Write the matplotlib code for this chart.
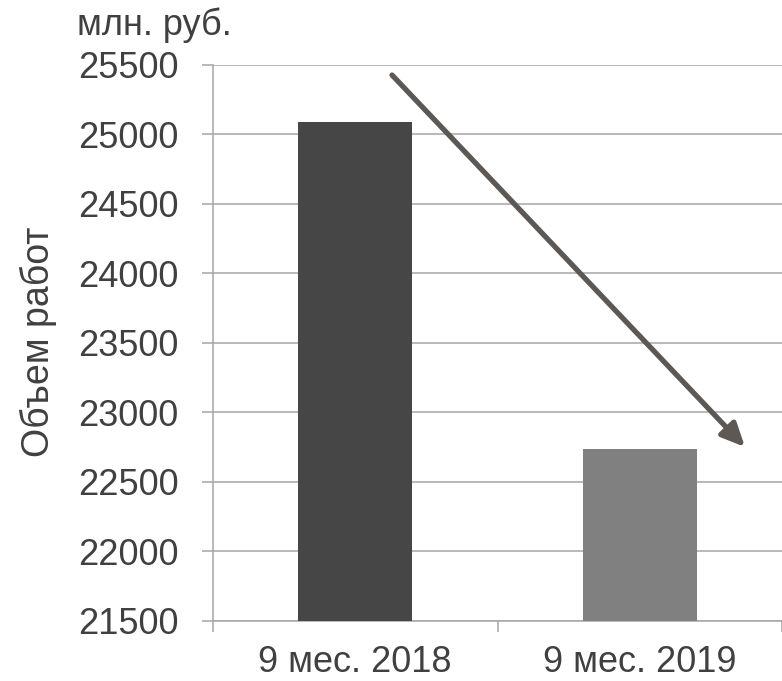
import matplotlib
matplotlib.use("Agg")
import matplotlib.pyplot as plt

categories = ["9 мес. 2018", "9 мес. 2019"]
values = [25090, 22740]
bar_colors = ["#464646", "#808080"]
yticks = [21500, 22000, 22500, 23000, 23500, 24000, 24500, 25000, 25500]

plt.rcParams['font.family'] = ['Liberation Sans', 'DejaVu Sans']
text_color = "#404040"
grid_color = "#a6a6a6"
fs = 26

fig = plt.figure(figsize=(7.82, 6.81), dpi=100)
ax = fig.add_axes([213/782, 1-621/681, 1-213/782, (621-65)/681])

x = list(range(len(categories)))
ax.bar(x, values, width=0.40, color=bar_colors, zorder=3)
ax.set_ylim(yticks[0], yticks[-1])
ax.set_xlim(-0.5, 1.46)
ax.set_yticks(yticks)
ax.set_yticklabels([str(v) for v in yticks])
ax.yaxis.grid(True, color=grid_color, linewidth=1.1, zorder=0)
ax.set_axisbelow(True)

for s in ["top", "right"]:
    ax.spines[s].set_visible(False)
for s in ["left", "bottom"]:
    ax.spines[s].set_color(grid_color)
    ax.spines[s].set_linewidth(1.1)

ax.tick_params(axis='y', length=8, width=1.1, color=grid_color, pad=17,
               labelsize=fs, labelcolor=text_color)
# category ticks at boundaries
ax.set_xticks([-0.5, 0.5, 1.5])
ax.set_xticklabels([])
ax.tick_params(axis='x', which='major', length=8, width=1.1, color=grid_color)
ax.set_xticks(x, minor=True)
ax.set_xticklabels(categories, minor=True)
ax.tick_params(axis='x', which='minor', length=0, pad=17, labelsize=fs,
               labelcolor=text_color)

fig.text(38/782, 1-342/681, "Объем работ", rotation=90, fontsize=27,
         color=text_color, ha='center', va='center')

fig.text(77/782, 1-35/681, "млн. руб.", fontsize=fs, color=text_color,
         ha='left', va='baseline')

# decorative trend arrow
ax.annotate("", xy=(745/782, 1-447/681), xytext=(392/782, 1-75/681),
            xycoords='figure fraction', textcoords='figure fraction',
            arrowprops=dict(arrowstyle='-|>,head_length=1.4,head_width=0.65',
                            color="#5e5854", lw=3.8, shrinkA=0, shrinkB=0))

fig.savefig("out.png", dpi=100)
